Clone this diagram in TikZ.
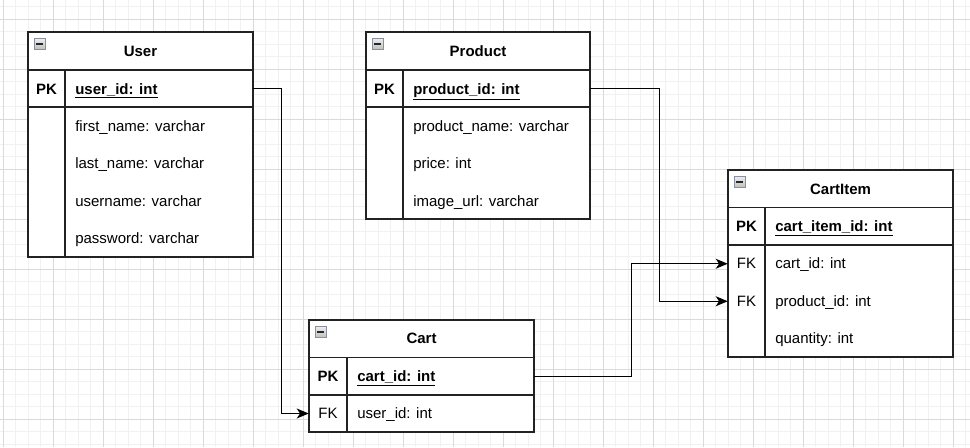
\documentclass[tikz,border=0pt]{standalone}
\usepackage{fontspec}
\setmainfont{Liberation Sans}
\usepackage{tikz}
\usetikzlibrary{arrows.meta, positioning, fit}
\definecolor{gridminor}{HTML}{F1F1F1}
\definecolor{gridmajor}{HTML}{DADADA}
\definecolor{iconedge}{HTML}{8A8FA0}
\definecolor{tblline}{HTML}{222222}
\newcommand{\erfont}{\fontsize{11.25}{13.5}\selectfont}
\tikzstyle{arrow} = [line width=0.9pt,-{Stealth[length=9pt,width=7.5pt,inset=2.5pt]}]
\tikzstyle{tbl} = [tblline, line width=0.85pt]
\tikzstyle{rowfit} = [inner sep=0pt]
\tikzstyle{title} = [anchor=base, font=\erfont\bfseries, inner sep=0pt]
\tikzstyle{key} = [anchor=base, font=\erfont, inner sep=0pt]
\tikzstyle{field} = [anchor=base west, font=\erfont, inner sep=0pt]

\begin{document}
\begin{tikzpicture}[x=0.75pt, y=-0.75pt]
\useasboundingbox (0,0) rectangle (970,447);

% Grid background
\fill[white] (0,0) rectangle (970,447);
\foreach \x in {3,15.5,...,970} \draw[gridminor, line width=0.75pt] (\x,0) -- (\x,447);
\foreach \y in {6.5,19,...,447} \draw[gridminor, line width=0.75pt] (0,\y) -- (970,\y);
\foreach \x in {3,53,...,970} \draw[gridmajor, line width=0.75pt] (\x,0) -- (\x,447);
\foreach \y in {19,69,...,447} \draw[gridmajor, line width=0.75pt] (0,\y) -- (970,\y);

% User
\draw[tbl, fill=white] (28,32) rectangle (253,257);
\draw[tbl] (28,70) -- (253,70);
\draw[tbl] (28,107) -- (253,107);
\draw[tbl] (65,70) -- (65,257);
\node[title] (usertitle) at (140.5,56) {User};
\node[key] (userpkkey) at (46.5,94) {\textbf{PK}};
\node[field] (userid) at (75,94) {\textbf{\underline{user\_id: int}}};
\node[field] (userfirst) at (75,131.3) {first\_name: varchar};
\node[field] (userlast) at (75,168.8) {last\_name: varchar};
\node[field] (username) at (75,206.3) {username: varchar};
\node[field] (userpass) at (75,243.8) {password: varchar};
\node[rowfit, fit={(28,70) (253,107)}] (userpk) {};

% Product
\draw[tbl, fill=white] (366,32) rectangle (590,219);
\draw[tbl] (366,70) -- (590,70);
\draw[tbl] (366,107) -- (590,107);
\draw[tbl] (403,70) -- (403,219);
\node[title] (producttitle) at (478,56) {Product};
\node[key] (productpkkey) at (384.5,94) {\textbf{PK}};
\node[field] (productid) at (413,94) {\textbf{\underline{product\_id: int}}};
\node[field] (productname) at (413,131.3) {product\_name: varchar};
\node[field] (productprice) at (413,168.8) {price: int};
\node[field] (productimage) at (413,206.3) {image\_url: varchar};
\node[rowfit, fit={(366,70) (590,107)}] (productpk) {};

% Cart
\draw[tbl, fill=white] (309,320) rectangle (534,432);
\draw[tbl] (309,357.5) -- (534,357.5);
\draw[tbl] (309,395) -- (534,395);
\draw[tbl] (347,357.5) -- (347,432);
\node[title] (carttitle) at (421.5,343.5) {Cart};
\node[key] (cartpkkey) at (328,381.5) {\textbf{PK}};
\node[field] (cartid) at (357,381.5) {\textbf{\underline{cart\_id: int}}};
\node[key] (cartfkkey) at (328,418.8) {FK};
\node[field] (cartuser) at (357,418.8) {user\_id: int};
\node[rowfit, fit={(309,357.5) (534,395)}] (cartpk) {};
\node[rowfit, fit={(309,395) (534,432)}] (cartfk) {};

% CartItem
\draw[tbl, fill=white] (728,170) rectangle (953,357);
\draw[tbl] (728,207.5) -- (953,207.5);
\draw[tbl] (728,245) -- (953,245);
\draw[tbl] (765,207.5) -- (765,357);
\node[title] (itemtitle) at (840.5,194) {CartItem};
\node[key] (itempkkey) at (746.5,231.5) {\textbf{PK}};
\node[field] (itemid) at (775,231.5) {\textbf{\underline{cart\_item\_id: int}}};
\node[key] (itemcartkey) at (746.5,268.8) {FK};
\node[field] (itemcart) at (775,268.8) {cart\_id: int};
\node[key] (itemprodkey) at (746.5,306.3) {FK};
\node[field] (itemprod) at (775,306.3) {product\_id: int};
\node[field] (itemqty) at (775,343.8) {quantity: int};
\node[rowfit, fit={(728,245) (953,282.5)}] (itemcartfk) {};
\node[rowfit, fit={(728,282.5) (953,320)}] (itemprodfk) {};

% Collapse icons
\foreach \tx/\ty in {28/32, 366/32, 309/320, 728/170} {
  \draw[iconedge, line width=0.75pt, top color=gray!15, bottom color=gray!50] (\tx+6,\ty+6.5) rectangle ++(11,11);
  \draw[black!85, line width=1.1pt] (\tx+8,\ty+12) -- ++(7,0);
}

% Relations
\draw[arrow] (userpk.east) -- ++(28,0) |- (cartfk.west);
\draw[arrow] (productpk.east) -- ++(69,0) |- (itemprodfk.west);
\draw[arrow] (cartpk.east) -- ++(97.5,0) |- (itemcartfk.west);
\end{tikzpicture}
\end{document}
